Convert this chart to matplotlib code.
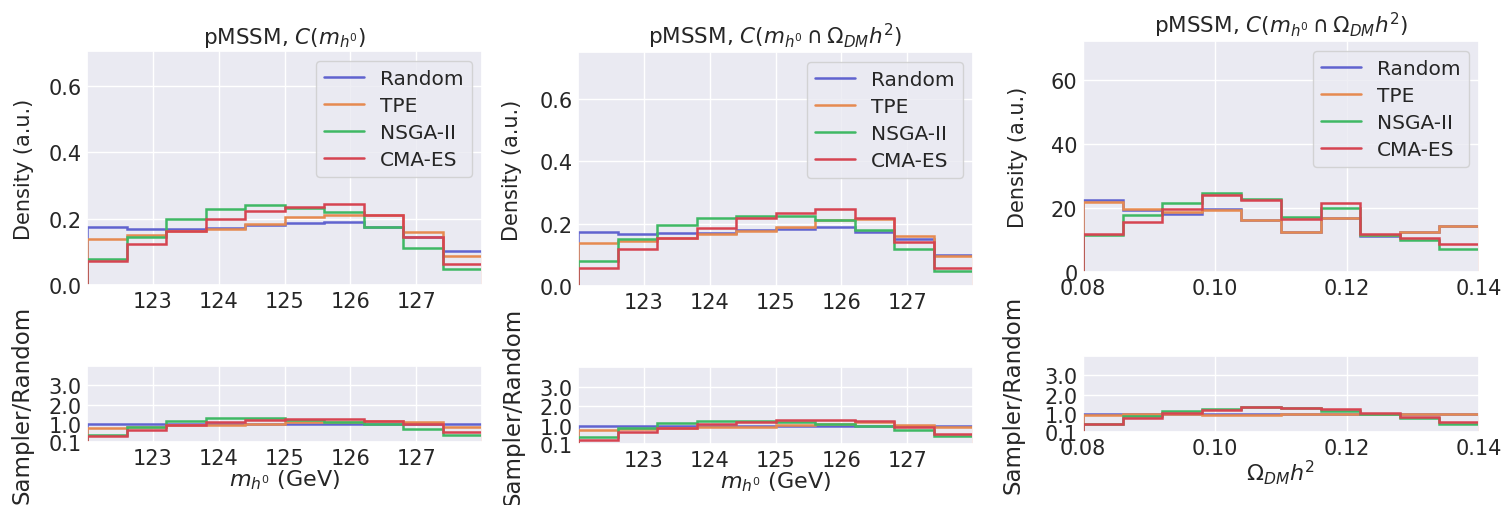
import numpy as np
import matplotlib
matplotlib.use("Agg")
import matplotlib.pyplot as plt
import seaborn as sns

sns.set_theme(style="darkgrid")
plt.rcParams['font.family'] = ['DejaVu Sans']

samplers = ["Random", "TPE", "NSGA-II", "CMA-ES"]
colors = ["#6063cf", "#e68a50", "#3fb864", "#d64451"]

# Panel 1: pMSSM, C(m_h0) -- m_h0 histograms
mh_edges = np.linspace(122.0, 128.0, 11)
p1_random = [0.175, 0.170, 0.170, 0.172, 0.180, 0.186, 0.191, 0.176, 0.144, 0.102]
p1_tpe    = [0.140, 0.150, 0.163, 0.170, 0.184, 0.205, 0.212, 0.210, 0.159, 0.089]
p1_nsga   = [0.078, 0.146, 0.200, 0.229, 0.240, 0.232, 0.219, 0.176, 0.111, 0.049]
p1_cmaes  = [0.073, 0.123, 0.164, 0.198, 0.222, 0.236, 0.243, 0.210, 0.144, 0.062]

# Panel 2: pMSSM, C(m_h0 ∩ Omega h^2) -- m_h0 histograms
p2_random = [0.174, 0.168, 0.171, 0.170, 0.180, 0.182, 0.190, 0.173, 0.150, 0.100]
p2_tpe    = [0.137, 0.144, 0.154, 0.166, 0.176, 0.190, 0.210, 0.214, 0.160, 0.096]
p2_nsga   = [0.080, 0.150, 0.196, 0.217, 0.225, 0.225, 0.212, 0.179, 0.118, 0.048]
p2_cmaes  = [0.057, 0.120, 0.155, 0.187, 0.219, 0.235, 0.248, 0.217, 0.142, 0.059]

# Panel 3: pMSSM, C(m_h0 ∩ Omega h^2) -- Omega h^2 histograms
om_edges = np.linspace(0.08, 0.14, 11)
p3_random = [22.3, 19.3, 18.1, 19.5, 16.3, 12.6, 16.8, 11.2, 12.4, 14.2]
p3_tpe    = [21.8, 19.5, 18.7, 19.3, 16.1, 12.6, 16.8, 11.4, 12.6, 14.2]
p3_nsga   = [11.6, 17.7, 21.4, 24.7, 22.6, 17.1, 20.0, 11.6, 10.0, 7.2]
p3_cmaes  = [11.8, 15.5, 19.5, 24.0, 22.3, 16.5, 21.4, 11.8, 10.7, 8.6]

titles = [r"pMSSM, $C(m_{h^0})$",
          r"pMSSM, $C(m_{h^0} \cap \Omega_{DM}h^2)$",
          r"pMSSM, $C(m_{h^0} \cap \Omega_{DM}h^2)$"]

W, H = 1505, 506
fig = plt.figure(figsize=(W / 100, H / 100), dpi=100)

def px_axes(x1, y1, x2, y2):
    return fig.add_axes([x1 / W, 1 - y2 / H, (x2 - x1) / W, (y2 - y1) / H])

panels = [
    dict(top=(87, 52, 482, 286), rat=(87, 367, 482, 443), edges=mh_edges,
         data=[p1_random, p1_tpe, p1_nsga, p1_cmaes], ylim=0.706,
         yticks=[0.0, 0.2, 0.4, 0.6], yfmt="{:.1f}", xlim=(122.0, 128.0),
         xticks=[123, 124, 125, 126, 127], xtl=["123", "124", "125", "126", "127"],
         xlabel=r"$m_{h^0}$ (GeV)", dlx=34, rlx=34),
    dict(top=(578, 53, 973, 287), rat=(578, 368, 973, 445), edges=mh_edges,
         data=[p2_random, p2_tpe, p2_nsga, p2_cmaes], ylim=0.75,
         yticks=[0.0, 0.2, 0.4, 0.6], yfmt="{:.1f}", xlim=(122.0, 128.0),
         xticks=[123, 124, 125, 126, 127], xtl=["123", "124", "125", "126", "127"],
         xlabel=r"$m_{h^0}$ (GeV)", dlx=522, rlx=524),
    dict(top=(1083, 42, 1479, 273), rat=(1083, 357, 1479, 433), edges=om_edges,
         data=[p3_random, p3_tpe, p3_nsga, p3_cmaes], ylim=72.0,
         yticks=[0, 20, 40, 60], yfmt="{:d}", xlim=(0.08, 0.14),
         xticks=[0.08, 0.10, 0.12, 0.14], xtl=["0.08", "0.10", "0.12", "0.14"],
         xlabel=r"$\Omega_{DM}h^2$", dlx=1028, rlx=1024),
]

for i, p in enumerate(panels):
    ax = px_axes(*p["top"])
    rx = px_axes(*p["rat"])
    rnd = np.array(p["data"][0])
    for name, vals, c in zip(samplers, p["data"], colors):
        vals = np.array(vals)
        ax.stairs(vals, p["edges"], color=c, lw=1.8, label=name)
        rx.stairs(vals / rnd, p["edges"], color=c, lw=1.8)
    ax.set_xlim(*p["xlim"])
    ax.set_ylim(0, p["ylim"])
    ax.set_yticks(p["yticks"])
    ax.set_yticklabels([p["yfmt"].format(v) for v in p["yticks"]], fontsize=15)
    ax.set_xticks(p["xticks"])
    ax.set_xticklabels(p["xtl"], fontsize=15)
    ax.set_title(titles[i], fontsize=15.5, pad=6)
    ax.set_ylabel("Density (a.u.)", fontsize=15)
    top_c = 1 - (p["top"][1] + p["top"][3]) / 2 / H
    ax.yaxis.set_label_coords(p["dlx"] / W, top_c, transform=fig.transFigure)
    ax.legend(loc="upper right", fontsize=14.5, handlelength=2.0,
              borderaxespad=0.5, labelspacing=0.4)

    rx.set_xlim(*p["xlim"])
    rx.set_ylim(0.1, 4.0)
    rx.set_yticks([0.1, 1.0, 2.0, 3.0])
    rx.set_yticklabels(["0.1", "1.0", "2.0", "3.0"], fontsize=15)
    rx.set_xticks(p["xticks"])
    rx.set_xticklabels(p["xtl"], fontsize=15)
    rx.set_xlabel(p["xlabel"], fontsize=16, labelpad=0)
    rx.set_ylabel("Sampler/Random", fontsize=16.5)
    rat_c = 1 - (p["rat"][1] + p["rat"][3]) / 2 / H
    rx.yaxis.set_label_coords(p["rlx"] / W, rat_c, transform=fig.transFigure)
    for a in (ax, rx):
        a.tick_params(axis="both", which="both", length=0, pad=4)

fig.savefig("out.png", dpi=100)
